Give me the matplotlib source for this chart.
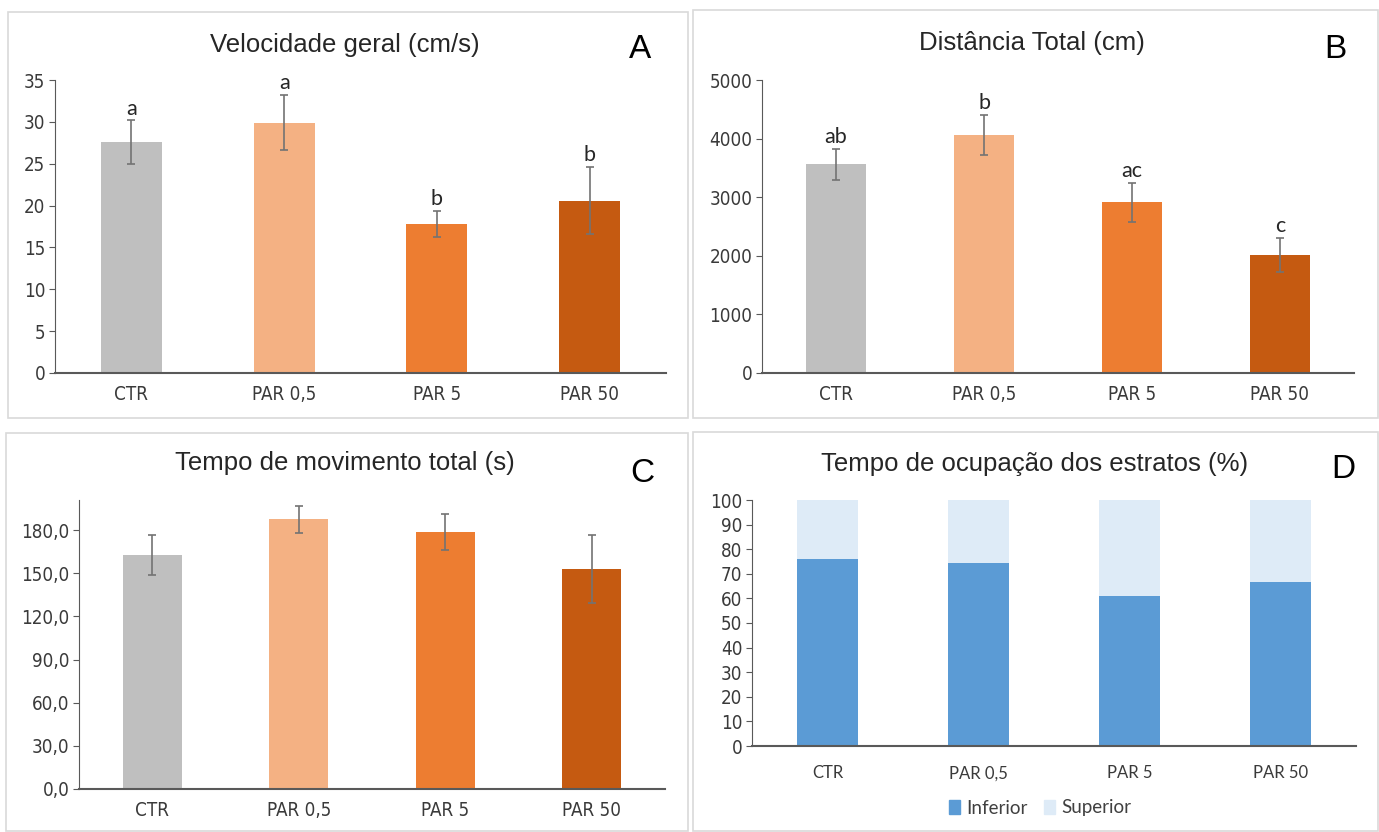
import matplotlib.pyplot as plt
from matplotlib.patches import Rectangle, Patch
import numpy as np

W, H = 1379, 832

grupos = ['CTR', 'PAR 0,5', 'PAR 5', 'PAR 50']
cores = ['#BFBFBF', '#F4B183', '#ED7D31', '#C55A11']

# A - velocidade geral
vel_media = [27.6, 29.9, 17.8, 20.6]
vel_erro = [2.6, 3.3, 1.6, 4.0]
vel_letras = ['a', 'a', 'b', 'b']

# B - distancia total
dist_media = [3560, 4060, 2910, 2010]
dist_erro = [260, 345, 330, 290]
dist_letras = ['ab', 'b', 'ac', 'c']

# C - tempo de movimento
tempo_media = [162.5, 187.5, 178.5, 153.0]
tempo_erro = [14.0, 9.3, 12.5, 23.7]

# D - ocupacao dos estratos
inferior = [76.0, 74.5, 61.0, 66.7]
superior = [100 - v for v in inferior]

arial = ['Liberation Sans', 'DejaVu Sans']
calib = ['Lato', 'DejaVu Sans']

fig = plt.figure(figsize=(W / 100, H / 100), dpi=100)


def ax_px(x0, y0, x1, y1):
    return fig.add_axes([x0 / W, 1 - y1 / H, (x1 - x0) / W, (y1 - y0) / H])


def moldura(x0, y0, x1, y1):
    fig.patches.append(Rectangle((x0 / W, 1 - y1 / H), (x1 - x0) / W, (y1 - y0) / H,
                                 transform=fig.transFigure, fill=False,
                                 edgecolor='#D9D9D9', linewidth=1.2))


def estilo(ax):
    for s in ['top', 'right']:
        ax.spines[s].set_visible(False)
    ax.spines['left'].set_color('#595959')
    ax.spines['bottom'].set_color('#595959')
    ax.spines['bottom'].set_linewidth(1.5)
    ax.tick_params(axis='y', length=4, color='#595959', labelsize=13.5, labelcolor='#3a3a3a', pad=3)
    ax.tick_params(axis='x', length=0, labelsize=13.5, labelcolor='#3a3a3a', pad=9)
    for lb in ax.get_yticklabels() + ax.get_xticklabels():
        lb.set_family('DejaVu Sans')
        lb.set_fontstretch('condensed')
    ax.set_xlim(-0.5, 3.5)


def barras(ax, media, erro):
    x = np.arange(len(grupos))
    ax.bar(x, media, width=0.4, color=cores, zorder=2)
    ax.errorbar(x, media, yerr=erro, fmt='none', ecolor='#737373', elinewidth=1.2,
                capsize=3, capthick=1.2, zorder=3)
    ax.set_xticks(x)
    ax.set_xticklabels(grupos)


moldura(8, 12, 688, 418)
moldura(693, 10, 1378, 418)
moldura(6, 433, 688, 831)
moldura(693, 432, 1378, 831)

# A
axA = ax_px(55, 80, 666, 373)
barras(axA, vel_media, vel_erro)
axA.set_ylim(0, 35)
axA.set_yticks(range(0, 36, 5))
estilo(axA)
for i, l in enumerate(vel_letras):
    axA.text(i, vel_media[i] + vel_erro[i] + 0.2, l, ha='center', va='bottom',
             fontsize=15.5, family=calib, color='#262626')
fig.text(345 / W, 1 - 45 / H, 'Velocidade geral (cm/s)', ha='center', va='center',
         fontsize=18.5, family=arial, color='#262626')
fig.text(640 / W, 1 - 50 / H, 'A', ha='center', va='center', fontsize=24, family=arial)

# B
axB = ax_px(762, 80, 1354, 373)
barras(axB, dist_media, dist_erro)
axB.set_ylim(0, 5000)
axB.set_yticks(range(0, 5001, 1000))
estilo(axB)
for i, l in enumerate(dist_letras):
    axB.text(i, dist_media[i] + dist_erro[i] + 30, l, ha='center', va='bottom',
             fontsize=15.5, family=calib, color='#262626')
fig.text(1032 / W, 1 - 43 / H, 'Distância Total (cm)', ha='center', va='center',
         fontsize=18.5, family=arial, color='#262626')
fig.text(1335 / W, 1 - 50 / H, 'B', ha='center', va='center', fontsize=24, family=arial)

# C
axC = ax_px(79, 500, 665, 789)
barras(axC, tempo_media, tempo_erro)
axC.set_ylim(0, 201)
axC.set_yticks(range(0, 181, 30))
axC.set_yticklabels([f'{v:.1f}'.replace('.', ',') for v in range(0, 181, 30)])
estilo(axC)
fig.text(345 / W, 1 - 463 / H, 'Tempo de movimento total (s)', ha='center', va='center',
         fontsize=18.5, family=arial, color='#262626')
fig.text(642 / W, 1 - 474 / H, 'C', ha='center', va='center', fontsize=24, family=arial)

# D
axD = ax_px(752, 500, 1356, 746)
xd = np.arange(len(grupos))
axD.bar(xd, inferior, width=0.4, color='#5B9BD5', label='Inferior', zorder=2)
axD.bar(xd, superior, width=0.4, bottom=inferior, color='#DEEBF7', label='Superior', zorder=2)
axD.set_xticks(xd)
axD.set_xticklabels(grupos)
axD.set_ylim(0, 100)
axD.set_yticks(range(0, 101, 10))
estilo(axD)
axD.tick_params(axis='x', labelsize=12, pad=14)
for lb in axD.get_xticklabels():
    lb.set_family(calib)
    lb.set_fontstretch('normal')
fig.text(1035 / W, 1 - 464 / H, 'Tempo de ocupação dos estratos (%)', ha='center', va='center',
         fontsize=18.5, family=arial, color='#262626')
fig.text(1343 / W, 1 - 470 / H, 'D', ha='center', va='center', fontsize=24, family=arial)
leg = fig.legend(handles=[Patch(color='#5B9BD5', label='Inferior'),
                          Patch(color='#DEEBF7', label='Superior')],
                 loc='center', bbox_to_anchor=(1040 / W, 1 - 808 / H), ncol=2, frameon=False,
                 handlelength=0.6, handleheight=0.8, handletextpad=0.3, columnspacing=0.9,
                 prop={'family': calib, 'size': 13.5})
for t in leg.get_texts():
    t.set_color('#404040')

fig.savefig('out.png', dpi=100)
